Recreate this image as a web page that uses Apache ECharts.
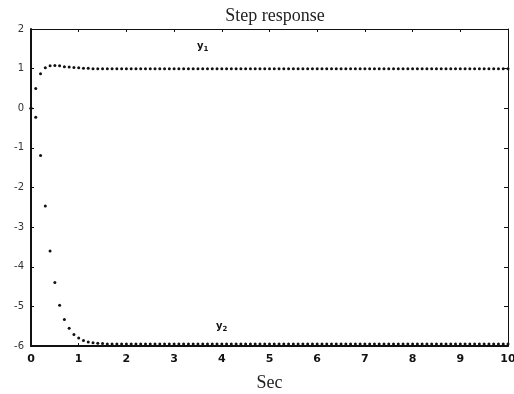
<!DOCTYPE html>
<html>
<head>
<meta charset="utf-8">
<script src="https://cdn.jsdelivr.net/npm/echarts@6/dist/echarts.min.js"></script>
<style>
  html, body { margin: 0; padding: 0; background: #fff; }
  #chart { width: 514px; height: 394px; }
</style>
</head>
<body>
<div id="chart"></div>
<script>
// time samples 0..10 s, step 0.1
const t = []
for (let i = 0; i <= 100; i++) t.push(+(i / 10).toFixed(1))

const y1 = [
  0, 0.50, 0.87, 1.02, 1.07, 1.08, 1.07, 1.05, 1.04, 1.03,
  1.02, 1.01, 1.01, 1.00, 1.00, 1.00, 1.00, 1.00, 1.00, 1.00,
  1.00, 1.00, 1.00, 1.00, 1.00, 1.00, 1.00, 1.00, 1.00, 1.00,
  1.00, 1.00, 1.00, 1.00, 1.00, 1.00, 1.00, 1.00, 1.00, 1.00,
  1.00, 1.00, 1.00, 1.00, 1.00, 1.00, 1.00, 1.00, 1.00, 1.00,
  1.00, 1.00, 1.00, 1.00, 1.00, 1.00, 1.00, 1.00, 1.00, 1.00,
  1.00, 1.00, 1.00, 1.00, 1.00, 1.00, 1.00, 1.00, 1.00, 1.00,
  1.00, 1.00, 1.00, 1.00, 1.00, 1.00, 1.00, 1.00, 1.00, 1.00,
  1.00, 1.00, 1.00, 1.00, 1.00, 1.00, 1.00, 1.00, 1.00, 1.00,
  1.00, 1.00, 1.00, 1.00, 1.00, 1.00, 1.00, 1.00, 1.00, 1.00,
  1.00
]

const y2 = [
  0, -0.23, -1.19, -2.47, -3.60, -4.40, -4.97, -5.33, -5.55, -5.71,
  -5.80, -5.86, -5.90, -5.92, -5.93, -5.94, -5.95, -5.95, -5.95, -5.95,
  -5.95, -5.95, -5.95, -5.95, -5.95, -5.95, -5.95, -5.95, -5.95, -5.95,
  -5.95, -5.95, -5.95, -5.95, -5.95, -5.95, -5.95, -5.95, -5.95, -5.95,
  -5.95, -5.95, -5.95, -5.95, -5.95, -5.95, -5.95, -5.95, -5.95, -5.95,
  -5.95, -5.95, -5.95, -5.95, -5.95, -5.95, -5.95, -5.95, -5.95, -5.95,
  -5.95, -5.95, -5.95, -5.95, -5.95, -5.95, -5.95, -5.95, -5.95, -5.95,
  -5.95, -5.95, -5.95, -5.95, -5.95, -5.95, -5.95, -5.95, -5.95, -5.95,
  -5.95, -5.95, -5.95, -5.95, -5.95, -5.95, -5.95, -5.95, -5.95, -5.95,
  -5.95, -5.95, -5.95, -5.95, -5.95, -5.95, -5.95, -5.95, -5.95, -5.95,
  -5.95
]

// where the curve names sit, in data units
const y1LabelAt = [3.6, 1.56]
const y2LabelAt = [4.0, -5.51]

const INK = '#111'
const SERIF = '"Liberation Serif", "DejaVu Serif", serif'

const chart = echarts.init(document.getElementById('chart'), null, { renderer: 'canvas' })

const nameLabel = (sub) => ({
  show: true,
  formatter: '{a|y}{b|' + sub + '}',
  rich: {
    a: { fontFamily: 'DejaVu Sans', fontWeight: 'bold', fontSize: 10, color: INK },
    b: { fontFamily: 'DejaVu Sans', fontWeight: 'bold', fontSize: 7, color: INK, padding: [6, 0, 0, 0] },
  },
})

const dotSeries = (name, ys, at, sub) => ({
  name,
  type: 'line',
  data: t.map((x, i) => [x, ys[i]]),
  symbol: 'circle',
  symbolSize: 3,
  showAllSymbol: true,
  itemStyle: { color: INK },
  lineStyle: { width: 0, opacity: 0 },
  animation: false,
  markPoint: {
    symbol: 'circle',
    symbolSize: 0,
    label: nameLabel(sub),
    data: [{ coord: at }],
  },
})

chart.setOption({
  backgroundColor: '#fff',
  title: {
    text: 'Step response',
    left: 270,
    textAlign: 'center',
    top: 2,
    textStyle: { fontFamily: SERIF, fontWeight: 'normal', fontSize: 18, color: '#222' },
  },
  grid: { left: 31, right: 6, top: 29, bottom: 48, outerBoundsMode: 'none', containLabel: false },
  xAxis: [
    {
      type: 'value',
      min: 0, max: 10, interval: 1,
      name: 'Sec',
      nameLocation: 'middle',
      nameGap: 28,
      nameTextStyle: { fontFamily: SERIF, fontSize: 18, color: '#222' },
      axisLine: { onZero: false, lineStyle: { color: INK, width: 2 } },
      axisTick: { inside: true, length: 3, lineStyle: { color: INK } },
      axisLabel: { color: INK, fontFamily: 'DejaVu Sans', fontWeight: 'bold', fontSize: 11, margin: 8 },
      splitLine: { show: false },
    },
    {
      type: 'value', position: 'top',
      min: 0, max: 10, interval: 1,
      axisLine: { onZero: false, lineStyle: { color: INK, width: 1 } },
      axisTick: { inside: true, length: 3, lineStyle: { color: INK } },
      axisLabel: { show: false },
      splitLine: { show: false },
    },
  ],
  yAxis: [
    {
      type: 'value',
      min: -6, max: 2, interval: 1,
      axisLine: { show: true, onZero: false, lineStyle: { color: INK, width: 2 } },
      axisTick: { show: true, inside: true, length: 3, lineStyle: { color: INK } },
      axisLabel: { color: '#333', fontFamily: 'DejaVu Sans', fontSize: 10, margin: 7 },
      splitLine: { show: false },
    },
    {
      type: 'value', position: 'right',
      min: -6, max: 2, interval: 1,
      axisLine: { show: true, onZero: false, lineStyle: { color: INK, width: 1 } },
      axisTick: { show: true, inside: true, length: 4, lineStyle: { color: INK } },
      axisLabel: { show: false },
      splitLine: { show: false },
    },
  ],
  series: [
    dotSeries('y1', y1, y1LabelAt, '1'),
    dotSeries('y2', y2, y2LabelAt, '2'),
  ],
})
</script>
</body>
</html>
